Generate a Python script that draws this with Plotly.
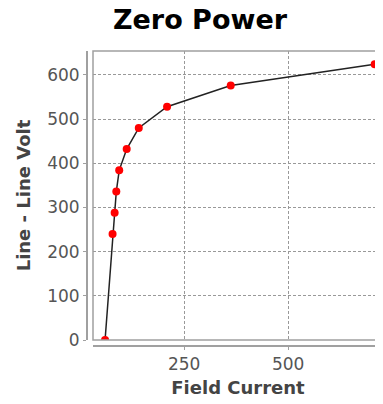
import plotly.graph_objects as go

field_current = [60, 78, 83, 87, 94, 112, 141, 209, 362, 708]
line_volt = [0, 240, 288, 336, 384, 432, 480, 528, 576, 624]
x_ticks = [250, 500]
y_ticks = [0, 100, 200, 300, 400, 500, 600]

FONT = "DejaVu Sans"
GRAY = "#a0a0a0"

fig = go.Figure(go.Scatter(
    x=field_current, y=line_volt, mode="lines+markers",
    line=dict(color="#222222", width=1.5),
    marker=dict(color="#ff0000", size=8),
))

fig.update_layout(
    width=375, height=396,
    margin=dict(l=79, r=0, t=43, b=58, autoexpand=False),
    paper_bgcolor="white", plot_bgcolor="white",
    showlegend=False,
    font=dict(family=FONT, color="#444444"),
    title=dict(text="<b>Zero Power</b>", x=0.512, xanchor="center",
               y=1, yanchor="top", xref="container", yref="container",
               pad=dict(t=2),
               font=dict(family=FONT, size=27, color="black")),
    xaxis=dict(
        range=[31, 728], domain=[6/296, 1], anchor="free", position=0,
        tickvals=x_ticks, ticks="outside", ticklen=3, tickcolor=GRAY,
        showline=True, linecolor=GRAY, linewidth=2, automargin=False,
        showgrid=True, gridcolor="#999999", griddash="3px,2px", gridwidth=1,
        zeroline=False, tickfont=dict(size=17, color="#555555"),
        title=dict(text="<b>Field Current</b>", font=dict(size=18, color="#444444"), standoff=7),
    ),
    yaxis=dict(
        range=[0, 654], domain=[6/295, 1], anchor="free", position=0,
        tickvals=y_ticks, ticks="outside", ticklen=3, tickcolor=GRAY,
        showline=True, linecolor=GRAY, linewidth=2, automargin=False,
        showgrid=True, gridcolor="#999999", griddash="3px,2px", gridwidth=1,
        zeroline=False, tickfont=dict(size=17, color="#555555"),
        title=dict(text="<b>Line - Line Volt</b>", font=dict(size=18, color="#444444"), standoff=11),
    ),
    shapes=[dict(type="rect", xref="x domain", yref="y domain", x0=0, x1=1, y0=0, y1=1,
                 line=dict(color=GRAY, width=1.5), layer="above")],
)

fig.write_html("out.html")
